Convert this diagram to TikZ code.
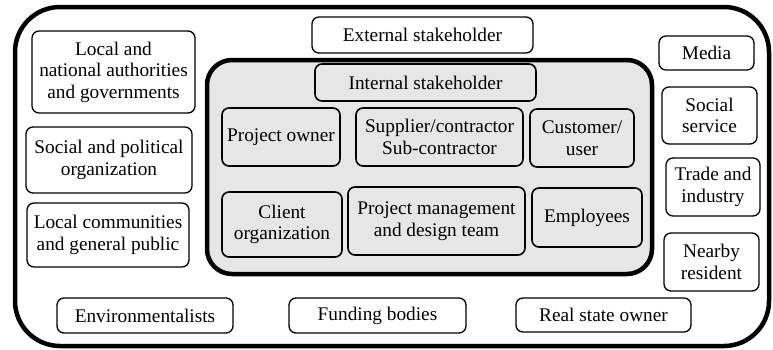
\documentclass[tikz,border=0pt]{standalone}
\usepackage{fontspec}
\setmainfont{Liberation Serif}
\definecolor{innergray}{HTML}{E6E6E6}
\tikzset{
  sbox/.style={draw, rounded corners=7pt, line width=1.3pt, align=center,
    inner sep=0pt, font=\fontsize{19.3}{21.5}\selectfont, fill=white},
  ibox/.style={sbox, fill=innergray, line width=1.6pt},
}
\begin{document}
\begin{tikzpicture}[x=1pt, y=-1pt]
\useasboundingbox (0,0) rectangle (773,349);
% outer frame: external stakeholders
\draw[line width=4.5pt, rounded corners=45pt] (15,7) rectangle (769,346);
% inner frame: internal stakeholders
\draw[line width=4.5pt, rounded corners=25pt, fill=innergray] (207,60) rectangle (652,274);

% external stakeholder boxes
\node[sbox, minimum width=221pt, minimum height=36pt] (ext) at (422.5,35) {External stakeholder};
\node[sbox, minimum width=163pt, minimum height=82pt] (auth) at (113.5,72) {Local and\\national authorities\\and governments};
\node[sbox, minimum width=166pt, minimum height=66pt] (pol) at (109,160) {Social and political\\organization};
\node[sbox, minimum width=162pt, minimum height=64pt] (comm) at (108,235) {Local communities\\and general public};
\node[sbox, minimum width=176pt, minimum height=35pt] (env) at (145,315.5) {Environmentalists};
\node[sbox, minimum width=177pt, minimum height=35pt] (fund) at (377.5,315.5) {Funding bodies};
\node[sbox, minimum width=175pt, minimum height=34pt] (real) at (603.5,315) {Real state owner};
\node[sbox, minimum width=95pt, minimum height=34pt] (media) at (706.5,53) {Media};
\node[sbox, minimum width=95pt, minimum height=57pt] (serv) at (709.5,115.5) {Social\\service};
\node[sbox, minimum width=94pt, minimum height=58pt] (trade) at (713,187) {Trade and\\industry};
\node[sbox, minimum width=95pt, minimum height=58pt] (near) at (711.5,262) {Nearby\\resident};

% internal stakeholder boxes
\node[ibox, minimum width=221pt, minimum height=37pt] (int) at (425.5,82.5) {Internal stakeholder};
\node[ibox, minimum width=118pt, minimum height=58pt] (own) at (281,137) {Project owner};
\node[ibox, minimum width=167pt, minimum height=58pt] (sup) at (439.5,137) {Supplier/contractor\\Sub-contractor};
\node[ibox, minimum width=104pt, minimum height=58pt] (cust) at (582,138) {Customer/\\user};
\node[ibox, minimum width=120pt, minimum height=65pt] (client) at (282,224.5) {Client\\organization};
\node[ibox, minimum width=177pt, minimum height=68pt] (pm) at (436.5,221) {Project management\\and design team};
\node[ibox, minimum width=110pt, minimum height=59pt] (emp) at (587,217.5) {Employees};
\end{tikzpicture}
\end{document}
